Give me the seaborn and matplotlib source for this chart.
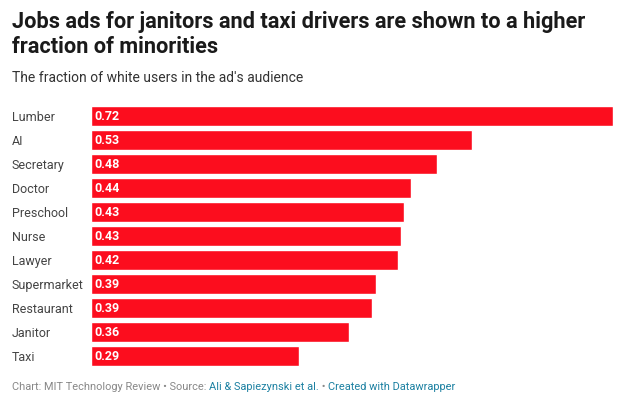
import matplotlib
matplotlib.use("Agg")
import matplotlib.pyplot as plt
import seaborn as sns
import pandas as pd

categories = ["Lumber", "AI", "Secretary", "Doctor", "Preschool", "Nurse",
              "Lawyer", "Supermarket", "Restaurant", "Janitor", "Taxi"]
values = [0.72, 0.526, 0.477, 0.441, 0.432, 0.428, 0.423, 0.393, 0.388, 0.356, 0.287]

df = pd.DataFrame({"job": categories, "fraction": values})

sns.set_theme(style="white")
plt.rcParams["font.family"] = ["Roboto", "DejaVu Sans"]

fig = plt.figure(figsize=(6.28, 4.13), dpi=100)
ax = fig.add_axes([91 / 628, 1 - 368 / 413, (613 - 91) / 628, (368 - 104) / 413])

sns.barplot(data=df, x="fraction", y="job", color="#fc0d1e", saturation=1,
            width=0.83, ax=ax, order=categories)

ax.set_xlim(0, 0.72)
ax.set_ylim(len(categories) - 0.5, -0.5)
ax.set_xlabel("")
ax.set_ylabel("")
ax.set_xticks([])
ax.tick_params(axis="y", length=0, pad=0, labelsize=9, labelcolor="#444444")
for lbl in ax.get_yticklabels():
    lbl.set_horizontalalignment("left")
    lbl.set_x(-79 / 522)
for s in ax.spines.values():
    s.set_visible(False)

for i, v in enumerate(values):
    ax.text(0.005, i, f"{v:.2f}", color="white", fontweight="bold",
            fontsize=9, va="center", ha="left")

fig.text(12 / 628, 1 - 28 / 413, "Jobs ads for janitors and taxi drivers are shown to a higher",
         fontsize=15.7, fontweight="bold", color="#1a1a1a", va="baseline")
fig.text(12 / 628, 1 - 53 / 413, "fraction of minorities",
         fontsize=15.7, fontweight="bold", color="#1a1a1a", va="baseline")
fig.text(12 / 628, 1 - 82 / 413, "The fraction of white users in the ad's audience",
         fontsize=10, color="#333333", va="baseline")

fy = 1 - 390 / 413
t1 = fig.text(12 / 628, fy, "Chart: MIT Technology Review • Source: ",
              fontsize=7.9, color="#888888", va="baseline")
fig.canvas.draw()
r = fig.canvas.get_renderer()
bb = t1.get_window_extent(r)
x2 = bb.x1 / fig.bbox.width
t2 = fig.text(x2, fy, "Ali & Sapiezynski et al.", fontsize=7.9, color="#1d81a2", va="baseline")
bb2 = t2.get_window_extent(r)
x3 = bb2.x1 / fig.bbox.width
t3 = fig.text(x3, fy, " • ", fontsize=7.9, color="#888888", va="baseline")
bb3 = t3.get_window_extent(r)
x4 = bb3.x1 / fig.bbox.width
fig.text(x4, fy, "Created with Datawrapper", fontsize=7.9, color="#1d81a2", va="baseline")

fig.savefig("out.png", dpi=100, facecolor="white")
